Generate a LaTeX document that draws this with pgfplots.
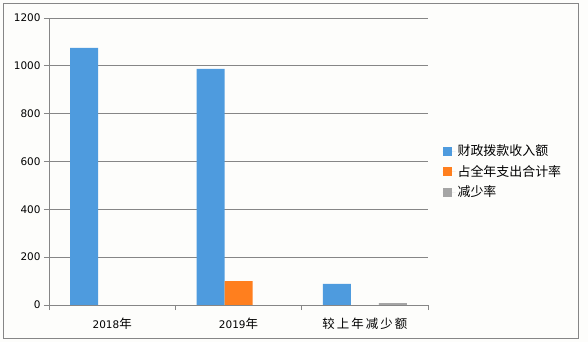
\documentclass[border=0pt]{standalone}
\usepackage{pgfplots}
\pgfplotsset{compat=1.18}
\usepackage{fontspec}
\setmainfont{DejaVu Sans}
\newfontfamily\cjk{Noto Sans CJK SC}
\newcommand{\cj}[1]{{\cjk\fontsize{12.5}{14}\selectfont #1}}
\definecolor{cblue}{RGB}{78,155,222}
\definecolor{corange}{RGB}{255,127,30}
\definecolor{cgray}{RGB}{165,165,165}
\definecolor{cgrid}{RGB}{134,134,134}
\definecolor{cbg}{RGB}{253,253,251}
\begin{document}
\begin{tikzpicture}
\useasboundingbox (-49bp,-37bp) rectangle (539bp,305bp);
\fill[cbg] (-49bp,-37bp) rectangle (539bp,305bp);
\draw[cgrid, line width=0.8bp] (-46bp,-33bp) rectangle (529bp,302bp);
\begin{axis}[
  at={(0,0)}, anchor=south west,
  scale only axis, width=379bp, height=287bp,
  ybar, bar width=28bp, ybar=0pt,
  xmin=-0.5, xmax=2.5, ymin=0, ymax=1200,
  axis x line*=bottom, axis y line*=left,
  axis line style={cgrid, line width=0.8bp, -},
  xtick={0,1,2},
  xticklabels={2018\cj{年},2019\cj{年},{\cj{较\,上\,年\,减\,少\,额}}},
  minor xtick={-0.5,0.5,1.5,2.5},
  major x tick style={draw=none},
  minor tick length=5bp, major tick length=5bp,
  tick align=outside,
  tick style={cgrid, line width=0.8bp},
  ytick={0,200,...,1200},
  ymajorgrids, grid style={cgrid, line width=0.8bp},
  tick label style={font=\fontsize{10.5}{12}\selectfont, text=black},
  xticklabel style={yshift=-4bp},
  /pgf/number format/assume math mode=true,
  /pgf/number format/set thousands separator={},
  legend style={at={(1.03,0.572)}, anchor=north west, draw=none, fill=none,
    font=\cjk\fontsize{13}{15}\selectfont, row sep=4bp,
    legend cell align=left},
  legend image code/.code={\fill[#1] (0bp,-4.5bp) rectangle (9bp,4.5bp); \path (0bp,0bp) -- (13bp,0bp);},
]
\addplot[fill=cblue, draw=none] coordinates {(0,1075) (1,987) (2,88)};
\addplot[fill=corange, draw=none] coordinates {(0,0) (1,100) (2,0)};
\addplot[fill=cgray, draw=none] coordinates {(0,0) (1,0) (2,8)};
\legend{财政拨款收入额,占全年支出合计率,减少率}
\end{axis}
\end{tikzpicture}
\end{document}
